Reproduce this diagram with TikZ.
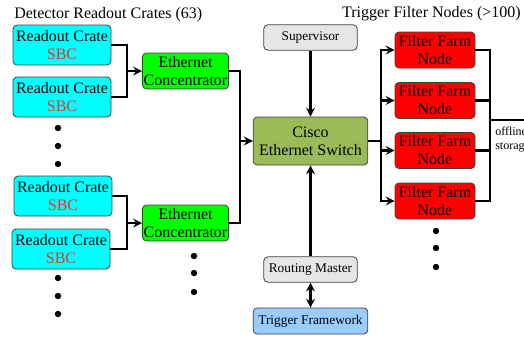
\documentclass[tikz,border=0pt]{standalone}
\usepackage{fontspec}
\setmainfont{Liberation Serif}
\usetikzlibrary{arrows, positioning}

\definecolor{cratecol}{RGB}{0,255,255}
\definecolor{conccol}{RGB}{0,255,0}
\definecolor{switchcol}{RGB}{155,187,89}
\definecolor{greycol}{RGB}{230,230,230}
\definecolor{tfcol}{RGB}{153,204,255}
\definecolor{farmcol}{RGB}{255,0,0}
\definecolor{sbcred}{RGB}{230,55,35}

\begin{document}
\begin{tikzpicture}[x=0.75pt, y=-0.75pt, >=stealth, line width=1.9pt]
	\tikzstyle{box} = [draw=black!75, line width=0.6pt, rounded corners=3pt, align=center, inner sep=1pt, font=\fontsize{12}{13.5}\selectfont]
	\tikzstyle{crate} = [box, fill=cratecol, minimum width=73.5pt, minimum height=30pt]
	\tikzstyle{conc} = [box, fill=conccol, minimum width=64pt, minimum height=27pt]
	\tikzstyle{farm} = [box, fill=farmcol, minimum width=60pt, minimum height=27pt]
	\tikzstyle{small} = [box, fill=greycol, minimum width=70pt, minimum height=19pt, font=\fontsize{10}{12}\selectfont]
	\tikzstyle{title} = [font=\fontsize{12}{14}\selectfont, inner sep=0pt]

	\useasboundingbox (0,0) rectangle (524,337);

	% titles
	\node[title, anchor=west] (crates) at (13,15) {Detector Readout Crates (63)};
	\node[title, anchor=east] (filters) at (522,14) {Trigger Filter Nodes (>100)};

	% readout crates and concentrators
	\node[crate] (rc1) at (62,45) {Readout Crate\\{\color{sbcred}SBC}};
	\node[crate] (rc2) at (62,97) {Readout Crate\\{\color{sbcred}SBC}};
	\node[crate] (rc3) at (63,196) {Readout Crate\\{\color{sbcred}SBC}};
	\node[crate] (rc4) at (61,249) {Readout Crate\\{\color{sbcred}SBC}};
	\node[conc] (ec1) at (185.5,71) {Ethernet\\Concentrator};
	\node[conc] (ec2) at (185.5,223) {Ethernet\\Concentrator};

	% switch and control
	\node[box, fill=switchcol, minimum width=86pt, minimum height=36pt] (sw) at (310.5,141) {Cisco\\Ethernet Switch};
	\node[small] (sup) at (310.5,37.5) {Supervisor};
	\node[small] (rm) at (310.5,269.5) {Routing Master};
	\node[small, fill=tfcol, minimum width=86pt, minimum height=19.5pt] (tf) at (310.5,321) {Trigger Framework};

	% filter farm
	\foreach \i/\y in {1/50, 2/100.5, 3/150.5, 4/201}
		\node[farm] (ff\i) at (435,\y) {Filter Farm\\Node};
	\node[font=\fontsize{9}{10.5}\selectfont, align=left, inner sep=0pt, anchor=west] (store) at (494,140) {offline\\storage};

	\coordinate (busA) at (127,71);
	\coordinate (busB) at (127,223);
	\coordinate (busC) at (240,141);
	\coordinate (fan) at (381,141);
	\coordinate (merge) at (490,120);
	\coordinate (out) at (526,120);

	% connectors
	\draw (rc1.east) -| (busA) |- (rc2.east);
	\draw[->] (busA) -- (ec1.west);
	\draw (rc3.east) -| (busB) |- (rc4.east);
	\draw[->] (busB) -- (ec2.west);
	\draw (ec1.east) -| (busC) |- (ec2.east);
	\draw[->] (busC) -- (sw.west);
	\draw[->] (sup) -- (sw);
	\draw[->] (rm) -- (sw);
	\draw[<->] (rm) -- (tf);
	\draw (sw.east) -- (fan);
	\foreach \i in {1,...,4}
		\draw[->] (fan) |- (ff\i.west);
	\draw (ff1.east) -| (merge) |- (ff4.east);
	\draw (ff2.east) -| (merge) |- (ff3.east);
	\draw (merge) -- (out);

	% more of the same
	\foreach \x/\y in {58/128, 58/146, 58/164, 58/278, 58/296, 58/314, 194/256, 194/273, 194/292, 436/231, 436/248, 436/267}
		\fill (\x,\y) circle (2.4pt);
\end{tikzpicture}
\end{document}
